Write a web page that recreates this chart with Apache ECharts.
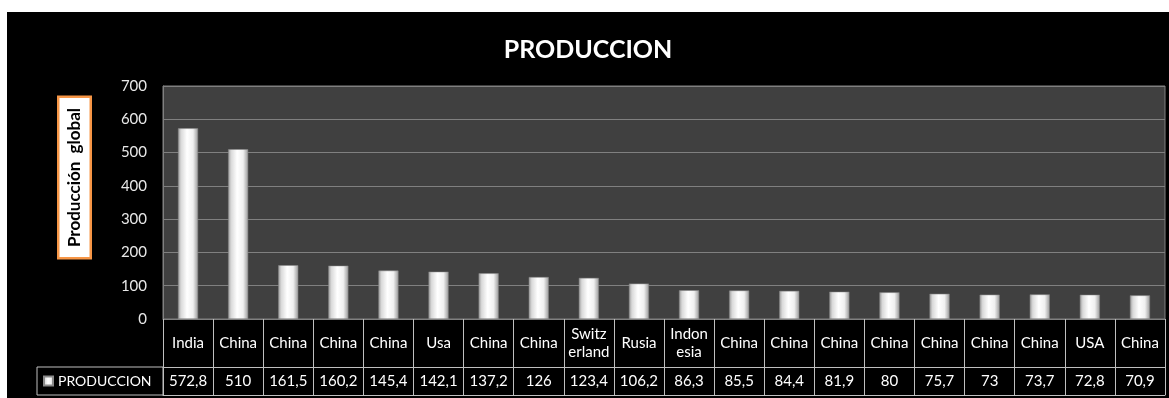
<!DOCTYPE html>
<html>
<head>
<meta charset="utf-8">
<script src="https://cdn.jsdelivr.net/npm/echarts@6/dist/echarts.min.js"></script>
<style>
html,body{margin:0;padding:0;background:#fff;width:1169px;height:398px;overflow:hidden;}
#chart{position:absolute;left:7px;top:12px;width:1162px;height:386px;background:#000;}
</style>
</head>
<body>
<div id="chart"></div>
<script>
var categories = ['India','China','China','China','China','Usa','China','China','Switz\nerland','Rusia','Indon\nesia','China','China','China','China','China','China','China','USA','China'];
var values = [572.8,510,161.5,160.2,145.4,142.1,137.2,126,123.4,106.2,86.3,85.5,84.4,81.9,80,75.7,73,73.7,72.8,70.9];
var seriesName = 'PRODUCCION';
var yTicks = {min:0, max:700, interval:100};

var FONT = 'Lato, "Open Sans", sans-serif';
var G = {left:156, top:74, width:1002, height:233}; // container coords
var lineC = '#bfbfbf';
function fmt(v){ return String(v).replace('.', ','); }

var barGrad = new echarts.graphic.LinearGradient(0,0,1,0,[
  {offset:0,color:'#9a9a9a'},{offset:0.15,color:'#d9d9d9'},{offset:0.45,color:'#ffffff'},
  {offset:0.75,color:'#f0f0f0'},{offset:1,color:'#9a9a9a'}]);

var chart = echarts.init(document.getElementById('chart'), null, {renderer:'canvas'});
var bottomY = G.top + G.height;
chart.setOption({
  backgroundColor:'#000',
  animation:false,
  title:{text:'PRODUCCION', left:'center', top:20, textStyle:{color:'#fff', fontSize:25, fontWeight:'bold', fontFamily:FONT}},
  legend:{show:true, left:36, top:362, padding:0, itemWidth:9, itemHeight:9, itemGap:4,
    data:[{name:seriesName, icon:'rect'}],
    textStyle:{color:'#fff', fontSize:14, fontFamily:FONT, padding:[0,0,0,0]}},
  grid:{left:G.left, top:G.top, width:G.width, height:G.height, show:true, backgroundColor:'#404040', borderColor:'#808080', borderWidth:1},
  xAxis:[
    {type:'category', data:categories, position:'bottom',
     axisLine:{show:true, lineStyle:{color:'#808080'}},
     axisTick:{show:true, length:48, lineStyle:{color:lineC}},
     axisLabel:{color:'#fff', fontSize:15, fontFamily:FONT, margin:24, verticalAlign:'middle', lineHeight:18, interval:0}},
    {type:'category', data:values.map(fmt), position:'bottom', offset:48,
     axisLine:{show:true, lineStyle:{color:lineC}},
     axisTick:{show:true, length:28, lineStyle:{color:lineC}},
     axisLabel:{color:'#fff', fontSize:15, fontFamily:FONT, margin:14, verticalAlign:'middle', interval:0}},
    {type:'category', data:categories, position:'bottom', offset:76,
     axisLine:{show:true, lineStyle:{color:lineC}},
     axisTick:{show:false}, axisLabel:{show:false}}
  ],
  yAxis:{type:'value', min:yTicks.min, max:yTicks.max, interval:yTicks.interval,
    axisLine:{show:true, lineStyle:{color:'#808080'}},
    axisTick:{show:false},
    splitLine:{show:true, lineStyle:{color:'#808080', width:1}},
    axisLabel:{color:'#e8e8e8', fontSize:15, fontFamily:FONT, margin:16}},
  series:[{name:seriesName, type:'bar', data:values, barWidth:'40%', xAxisIndex:0,
    itemStyle:{color:barGrad, borderColor:'#8a8a8a', borderWidth:0.5}}],
  graphic:[
    {type:'text', x:67.5, y:165.5, rotation:Math.PI/2, z:100,
     style:{text:'Producción  global', align:'center', verticalAlign:'middle', fill:'#000',
       font:'bold 17px ' + FONT, backgroundColor:'#fff', borderColor:'#f79646', borderWidth:2.5,
       padding:[7,10,6,10]}},
    {type:'rect', shape:{x:30, y:bottomY+48, width:G.left-30, height:28}, z:100,
     style:{fill:null, stroke:lineC, lineWidth:1}}
  ]
});
</script>
</body>
</html>
